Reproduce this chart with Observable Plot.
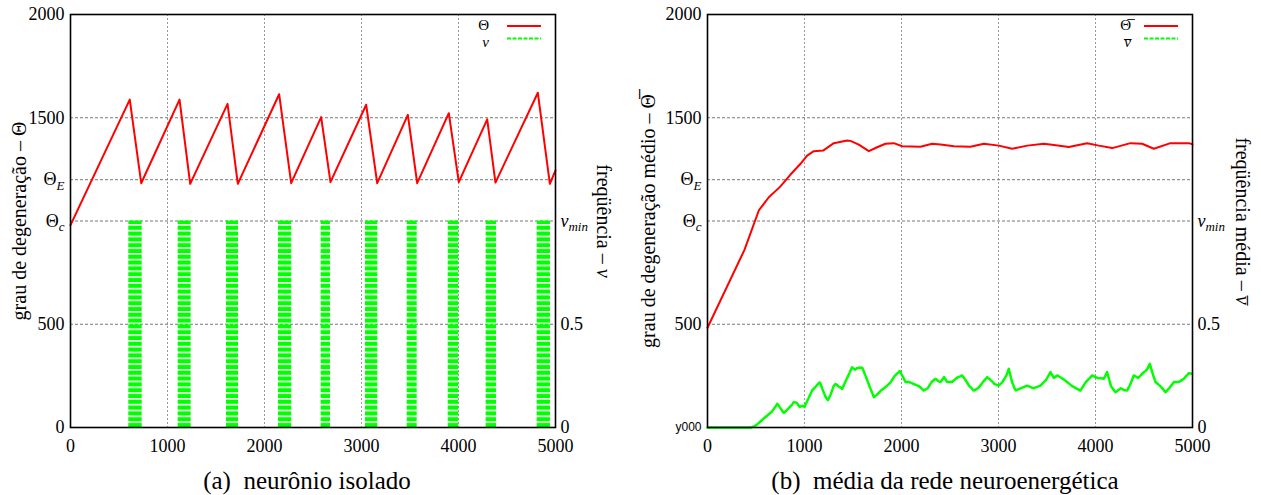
<!DOCTYPE html>
<html><head><meta charset="utf-8">
<script src="https://cdn.jsdelivr.net/npm/d3@7"></script>
<script src="https://cdn.jsdelivr.net/npm/@observablehq/plot@0.6"></script>
<style>
body{margin:0;background:#fff;font-family:"Liberation Serif","Times New Roman","DejaVu Serif",serif;width:1261px;height:495px;overflow:hidden;position:relative}
#a{position:absolute;left:0;top:0}
#b{position:absolute;left:630px;top:0}
.cap{position:absolute;top:466px;font-size:25px;text-align:center;white-space:pre;line-height:30px}
</style></head><body>
<div id="a"></div><div id="b"></div>
<div class="cap" style="left:107px;width:400px">(a)  neurônio isolado</div>
<div class="cap" style="left:745px;width:400px">(b)  média da rede neuroenergética</div>
<script>
// ---- data ----
const xTicks = [0, 1000, 2000, 3000, 4000, 5000];
const thetaTicks = [0, 500, 1000, 1200, 1500, 2000];
const thetaTickLabelsA = ["0", "500", "Θ_{*c*}", "Θ_{*E*}", "1500", "2000"];
const thetaTickLabelsB = ["y000", "500", "Θ_{*c*}", "Θ_{*E*}", "1500", "2000"];
const vTicks = [0, 0.5, 1];
const vTickLabels = ["0", "0.5", "*v*_{*min*}"];
const vScale = 1000; // v_min is drawn at the height of Θ_c
const gridTheta = [500, 1000, 1200, 1500];
const gridX = [1000, 2000, 3000, 4000];

// (a) isolated neuron: Θ sawtooth
const thetaA_t = [0, 611, 729, 1124, 1234, 1619, 1725, 2151, 2275, 2584, 2680, 3048, 3162, 3478, 3574, 3900, 4003, 4296, 4381, 4818, 4942, 5000];
const thetaA_v = [980, 1588, 1183, 1588, 1180, 1567, 1180, 1614, 1183, 1503, 1188, 1563, 1183, 1514, 1183, 1522, 1188, 1492, 1186, 1621, 1180, 1245];
// (a) firing bursts of v (0 ↔ v_min)
const burstStart = [601, 1110, 1608, 2144, 2584, 3041, 3471, 3894, 4285, 4811];
const burstEnd = [739, 1244, 1732, 2281, 2680, 3168, 3574, 4003, 4392, 4948];
const burstTop = 1;

// (b) network mean Θ̄
const thetaB_t = [0, 381, 529, 632, 745, 856, 959, 1027, 1096, 1192, 1302, 1440, 1474, 1560, 1663, 1749, 1835, 1921, 2007, 2196, 2316, 2402, 2540, 2711, 2849, 3003, 3141, 3296, 3468, 3571, 3725, 3914, 4034, 4172, 4361, 4481, 4601, 4773, 4962, 5000];
const thetaB_v = [483, 860, 1051, 1115, 1164, 1225, 1277, 1317, 1338, 1341, 1377, 1390, 1388, 1370, 1338, 1357, 1374, 1377, 1362, 1360, 1374, 1370, 1362, 1360, 1374, 1365, 1350, 1365, 1374, 1368, 1358, 1377, 1365, 1353, 1377, 1374, 1350, 1377, 1377, 1372];
// (b) network mean v̄
const vB_t = [0, 200, 443, 480, 512, 560, 615, 660, 700, 718, 750, 787, 830, 870, 890, 920, 950, 976, 1000, 1040, 1079, 1120, 1158, 1190, 1215, 1240, 1270, 1300, 1320, 1350, 1388, 1420, 1460, 1491, 1520, 1550, 1595, 1630, 1670, 1715, 1750, 1790, 1820, 1852, 1890, 1930, 1982, 2010, 2041, 2080, 2130, 2180, 2230, 2270, 2310, 2350, 2380, 2402, 2440, 2471, 2520, 2570, 2625, 2660, 2700, 2745, 2790, 2840, 2883, 2920, 2960, 3003, 3040, 3080, 3106, 3140, 3175, 3230, 3296, 3360, 3433, 3490, 3536, 3570, 3605, 3650, 3708, 3760, 3800, 3845, 3900, 3966, 4020, 4086, 4120, 4160, 4206, 4260, 4300, 4326, 4360, 4395, 4440, 4481, 4530, 4560, 4590, 4619, 4670, 4722, 4760, 4808, 4860, 4911, 4962, 5000];
const vB_v = [0, 0, 0, 0.005, 0.015, 0.035, 0.058, 0.075, 0.1, 0.115, 0.095, 0.07, 0.09, 0.11, 0.123, 0.12, 0.1, 0.106, 0.1, 0.14, 0.18, 0.2, 0.22, 0.18, 0.15, 0.131, 0.16, 0.2, 0.212, 0.2, 0.187, 0.22, 0.26, 0.292, 0.28, 0.29, 0.289, 0.25, 0.2, 0.147, 0.16, 0.18, 0.19, 0.203, 0.22, 0.25, 0.273, 0.25, 0.22, 0.22, 0.21, 0.2, 0.179, 0.19, 0.22, 0.236, 0.225, 0.22, 0.244, 0.22, 0.22, 0.24, 0.252, 0.23, 0.2, 0.179, 0.19, 0.22, 0.244, 0.23, 0.21, 0.203, 0.22, 0.25, 0.284, 0.22, 0.179, 0.19, 0.203, 0.19, 0.203, 0.23, 0.268, 0.24, 0.252, 0.24, 0.22, 0.2, 0.19, 0.179, 0.22, 0.252, 0.24, 0.236, 0.268, 0.2, 0.171, 0.19, 0.18, 0.179, 0.21, 0.252, 0.24, 0.26, 0.28, 0.308, 0.26, 0.22, 0.2, 0.171, 0.19, 0.22, 0.22, 0.236, 0.263, 0.26];

const titleA = {left: "grau de degeneração – Θ", right: "freqüência – *v*"};
const titleB = {left: "grau de degeneração médio – Θ\u0305", right: "freqüência média – *v\u0305*"};
const legendA = ["Θ", "*v*"];
const legendB = ["Θ\u0305", "*v\u0305*"];

// ---- helpers ----
const FONT = "Liberation Serif, Times New Roman, DejaVu Serif, serif";
const NS = "http://www.w3.org/2000/svg";
function addParts(parent, s) {
  const re = /_\{([^}]*)\}|\*([^*]+)\*|([^_*]+)/g;
  let m;
  while ((m = re.exec(s))) {
    const ts = document.createElementNS(NS, "tspan");
    if (m[1] !== undefined) {
      ts.setAttribute("style", "font-size:0.72em");
      ts.setAttribute("dy", "0.32em");
      addParts(ts, m[1]);
    } else if (m[2] !== undefined) {
      ts.setAttribute("font-style", "italic");
      ts.textContent = m[2];
    } else {
      ts.textContent = m[3];
    }
    parent.appendChild(ts);
  }
}
function richify(svg) {
  svg.querySelectorAll("text").forEach(t => {
    const s = t.textContent;
    if (t.childElementCount === 0 && /[_*]/.test(s)) { t.textContent = ""; addParts(t, s); }
    if (s === "y000") { t.setAttribute("font-family", "Liberation Sans, DejaVu Sans, sans-serif"); t.setAttribute("font-size", "12"); }
  });
}
function addLegend(svg, labels, xText, xl1, xl2) {
  const g = d3.select(svg).append("g").attr("font-family", FONT);
  const rows = [{y: 29.5, ly: 26, stroke: "#ff0000", dash: null}, {y: 46.5, ly: 38.5, stroke: "#00ff00", dash: "4,1.5"}];
  rows.forEach((r, i) => {
    g.append("text").attr("x", xText).attr("y", r.y).attr("text-anchor", "end")
      .attr("font-size", 15).attr("fill", "black").text(labels[i]);
    g.append("line").attr("x1", xl1).attr("x2", xl2).attr("y1", r.ly).attr("y2", r.ly)
      .attr("stroke", r.stroke).attr("stroke-width", 2).attr("stroke-dasharray", r.dash);
  });
}

function panel({width, ml, mr, theta, extraMarks, yLabels, titles}) {
  const labelMapY = new Map(thetaTicks.map((d, i) => [d, yLabels[i]]));
  const labelMapV = new Map(vTicks.map((d, i) => [d * vScale, vTickLabels[i]]));
  return Plot.plot({
    width, height: 460,
    marginLeft: ml, marginRight: mr, marginTop: 14, marginBottom: 33,
    style: {fontFamily: FONT, fontSize: "18px", color: "black", background: "transparent"},
    x: {type: "linear", domain: [0, 5000]},
    y: {type: "linear", domain: [0, 2000]},
    marks: [
      Plot.ruleX(gridX, {stroke: "#9a9a9a", strokeDasharray: "2,2", strokeWidth: 1}),
      Plot.ruleY(gridTheta, {stroke: "#777", strokeDasharray: "3,2", strokeWidth: 1}),
      ...extraMarks,
      Plot.line(theta, {x: "t", y: "v", stroke: "#ff0000", strokeWidth: 2}),
      Plot.axisX(xTicks, {anchor: "bottom", tickSize: 0, tickPadding: 12, fontSize: 18, tickFormat: d => String(d), label: null}),
      Plot.axisY(thetaTicks, {anchor: "left", tickSize: 0, tickPadding: 6, fontSize: 18, tickFormat: d => labelMapY.get(d), label: null}),
      Plot.axisY(vTicks.map(d => d * vScale), {anchor: "right", tickSize: 0, tickPadding: 5, fontSize: 18, tickFormat: d => labelMapV.get(d), label: null}),
      Plot.text([titles.left], {frameAnchor: "left", textAnchor: "middle", text: d => d, rotate: -90, dx: titles.dxL, fontSize: 20}),
      Plot.text([titles.right], {frameAnchor: "right", textAnchor: "middle", text: d => d, rotate: 90, dx: titles.dxR, fontSize: 20}),
      Plot.frame({stroke: "black", strokeWidth: 1.6})
    ]
  });
}

// ---- panel (a) ----
const thetaA = thetaA_t.map((t, i) => ({t, v: thetaA_v[i]}));
const bursts = burstStart.map((s, i) => ({start: s, end: burstEnd[i], top: burstTop}));
const svgA = panel({
  width: 630, ml: 70, mr: 75, theta: thetaA, yLabels: thetaTickLabelsA,
  titles: {left: titleA.left, right: titleA.right, dxL: -51, dxR: 48},
  extraMarks: [
    Plot.rect(bursts, {x1: "start", x2: "end", y1: () => 0, y2: d => d.top * vScale, fill: "url(#vstripes)"})
  ]
});
d3.select(svgA).insert("defs", ":first-child").html(
  '<pattern id="vstripes" patternUnits="userSpaceOnUse" x="0" y="3.6" width="10" height="5.8">' +
  '<rect x="0" y="1.6" width="10" height="4.2" fill="#00ff00"/></pattern>');
addLegend(svgA, legendA, 489, 507, 541);
richify(svgA);
document.getElementById("a").appendChild(svgA);

// ---- panel (b) ----
const thetaB = thetaB_t.map((t, i) => ({t, v: thetaB_v[i]}));
const vB = vB_t.map((t, i) => ({t, v: vB_v[i] * vScale}));
const svgB = panel({
  width: 631, ml: 77, mr: 69, theta: thetaB, yLabels: thetaTickLabelsB,
  titles: {left: titleB.left, right: titleB.right, dxL: -59, dxR: 50},
  extraMarks: [
    Plot.line(vB, {x: "t", y: "v", stroke: "#00ff00", strokeWidth: 2.5, strokeDasharray: "5,1.5"})
  ]
});
addLegend(svgB, legendB, 1131 - 630, 1144 - 630, 1178 - 630);
richify(svgB);
document.getElementById("b").appendChild(svgB);
</script>
</body></html>
